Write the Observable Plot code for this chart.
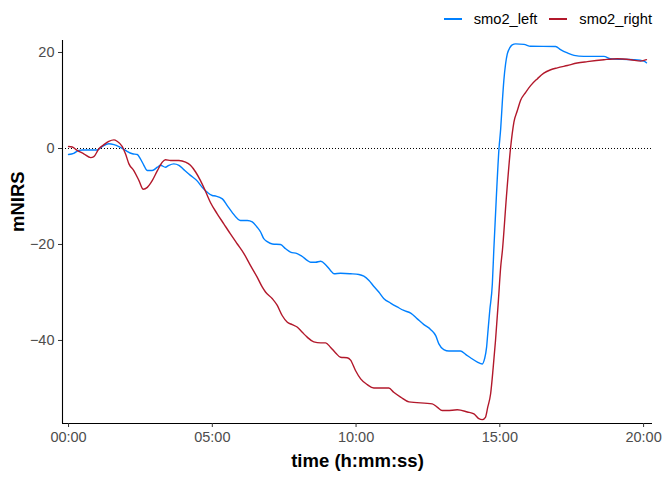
<!DOCTYPE html>
<html>
<head>
<meta charset="utf-8">
<script src="https://cdn.jsdelivr.net/npm/d3@7"></script>
<script src="https://cdn.jsdelivr.net/npm/@observablehq/plot@0.6"></script>
<style>
  body { margin: 0; background: #fff; font-family: "Liberation Sans", Arial, sans-serif; }
  #wrap { width: 672px; }
  #legend { height: 30px; display: flex; justify-content: flex-end; align-items: center; padding-right: 20px; padding-top: 7px; box-sizing: border-box; font-size: 14.7px; color: #000; }
  .key { display: inline-block; width: 18px; height: 2px; margin: 0 12px 0 0; }
  .item { display: flex; align-items: center; margin-left: 12px; }
</style>
</head>
<body>
<div id="wrap">
  <div id="legend"></div>
  <div id="chart"></div>
</div>
<script>
const seriesNames = ["smo2_left", "smo2_right"];
const seriesColors = ["#0080ff", "#b2182b"];

const leftTime = [0,0.18,0.36,0.48,1.0,1.17,1.40,1.58,1.75,1.98,2.22,2.39,2.50,2.62,2.74,2.91,3.09,3.20,3.37,3.49,3.66,3.84,4.01,4.24,4.48,4.65,4.82,5.0,5.11,5.35,5.52,5.69,5.87,5.98,6.22,6.39,6.56,6.68,6.79,6.91,7.09,7.37,7.55,7.72,7.95,8.13,8.30,8.42,8.59,8.77,8.94,9.11,9.23,9.46,9.81,10.10,10.27,10.45,10.62,10.79,10.97,11.20,11.43,11.66,11.90,12.13,12.36,12.59,12.77,12.88,13.05,13.23,13.63,13.81,13.98,14.22,14.39,14.47,14.54,14.58,14.65,14.74,14.79,14.88,14.97,15.03,15.09,15.14,15.20,15.26,15.35,15.43,15.55,15.84,16.07,16.94,17.11,17.35,17.58,17.92,18.62,18.85,19.66,20.01,20.10];
const leftValue = [-1.25,-1.0,-0.4,-0.3,-0.3,0.4,1.0,0.8,0.4,-0.4,-1.1,-1.25,-2.15,-3.5,-4.6,-4.6,-3.9,-3.5,-3.9,-3.5,-3.2,-3.5,-4.4,-5.6,-6.8,-8.1,-9.1,-9.8,-9.9,-10.5,-11.9,-13.3,-14.6,-15,-15,-15.3,-16.4,-17.4,-18.8,-19.4,-19.9,-20,-20.9,-21.6,-21.9,-22.5,-23.3,-23.7,-23.7,-23.5,-24.2,-25.4,-26.1,-26,-26.1,-26.25,-26.6,-27.5,-28.75,-29.9,-31.3,-32.2,-33.0,-33.75,-34.3,-35.5,-36.7,-37.7,-39.0,-40.7,-41.9,-42.2,-42.2,-42.9,-43.6,-44.5,-44.9,-43.8,-41.4,-38.6,-33.75,-28.2,-21.25,-10,-0.1,4.1,10,14.2,17.6,19.7,21,21.6,21.8,21.7,21.3,21.25,20.6,19.9,19.4,19.2,19.2,18.7,18.5,18.2,17.85];

const rightTime = [0,0.13,0.30,0.53,0.77,0.88,1.05,1.23,1.40,1.58,1.69,1.87,1.98,2.10,2.27,2.45,2.60,2.74,2.91,3.09,3.26,3.37,3.55,3.84,4.07,4.24,4.42,4.59,4.77,4.94,5.17,5.40,5.63,5.87,6.10,6.33,6.56,6.74,6.85,7.09,7.26,7.43,7.61,7.78,7.95,8.13,8.30,8.53,8.77,8.94,9.11,9.29,9.46,9.69,9.81,9.98,10.16,10.39,10.62,11.14,11.31,11.55,11.84,12.65,12.82,13.0,13.17,13.52,13.87,14.10,14.27,14.39,14.50,14.58,14.68,14.77,14.85,14.95,15.03,15.09,15.23,15.37,15.43,15.49,15.61,15.72,15.90,16.07,16.30,16.53,16.77,17.0,17.35,17.69,18.04,18.62,19.08,19.55,19.90,20.10];
const rightValue = [0.4,0.3,-0.4,-1.1,-1.9,-1.7,-0.1,0.8,1.5,1.8,1.5,0.4,-1.1,-3.2,-4.6,-6.7,-8.5,-8.1,-6.7,-4.6,-2.85,-2.35,-2.5,-2.5,-2.85,-3.5,-4.9,-6.7,-9.0,-11.3,-13.6,-15.7,-17.8,-19.9,-21.9,-24.4,-26.8,-28.9,-29.9,-31.3,-32.7,-34.8,-36.2,-36.7,-37.2,-38.3,-39.3,-40.3,-40.5,-40.5,-41.4,-42.6,-43.5,-43.6,-44.1,-46.25,-48,-49.2,-49.9,-49.9,-50.8,-51.8,-52.8,-53.2,-53.9,-54.6,-54.6,-54.45,-54.9,-55.3,-56.3,-56.5,-56,-53.9,-51.1,-45.6,-40,-31.7,-24.7,-21.25,-10,-0.1,3.05,5.5,7.9,10,11.7,13.1,14.5,15.7,16.4,16.8,17.3,17.8,18.1,18.5,18.7,18.5,18.2,18.5];

const xTicks = [0, 5, 10, 15, 20];
const yTicks = [-40, -20, 0, 20];
const xDomain = [-0.21, 20.31];
const yDomain = [-57.3, 22.5];

const data = [
  ...leftTime.map((t, i) => ({time: t, value: leftValue[i], series: seriesNames[0]})),
  ...rightTime.map((t, i) => ({time: t, value: rightValue[i], series: seriesNames[1]}))
];

const fmt = d => String(d).padStart(2, "0") + ":00";

const chart = Plot.plot({
  width: 672,
  height: 450,
  marginLeft: 62,
  marginRight: 20,
  marginTop: 10,
  marginBottom: 57,
  style: {fontFamily: "Liberation Sans, Arial, sans-serif", background: "#fff"},
  x: {domain: xDomain, label: null},
  y: {domain: yDomain, label: null},
  color: {domain: seriesNames, range: seriesColors},
  marks: [
    Plot.ruleY([0], {stroke: "#000", strokeWidth: 1, strokeDasharray: "1,2"}),
    Plot.line(data, {x: "time", y: "value", z: "series", stroke: "series", strokeWidth: 1.4, curve: "monotone-x"}),
    Plot.ruleX([xDomain[0]], {stroke: "#000", strokeWidth: 1.1}),
    Plot.ruleY([yDomain[0]], {stroke: "#000", strokeWidth: 1.1}),
    Plot.axisX({ticks: xTicks, tickFormat: fmt, tickSize: 4, tickPadding: 4, fontSize: 14.5, color: "#4d4d4d", stroke: "#333", label: null}),
    Plot.axisY({ticks: yTicks, tickSize: 4, tickPadding: 4, fontSize: 14.5, color: "#4d4d4d", stroke: "#333", label: null}),
    Plot.text(["time (h:mm:ss)"], {frameAnchor: "bottom", dy: 43, fontSize: 18.5, fontWeight: "bold", fill: "#000"}),
    Plot.text(["mNIRS"], {frameAnchor: "left", dx: -44, rotate: -90, fontSize: 18.5, fontWeight: "bold", fill: "#000"})
  ]
});
document.getElementById("chart").appendChild(chart);

const legend = document.getElementById("legend");
seriesNames.forEach((name, i) => {
  const item = document.createElement("span");
  item.className = "item";
  const key = document.createElement("span");
  key.className = "key";
  key.style.background = seriesColors[i];
  item.appendChild(key);
  item.appendChild(document.createTextNode(name));
  legend.appendChild(item);
});
</script>
</body>
</html>
